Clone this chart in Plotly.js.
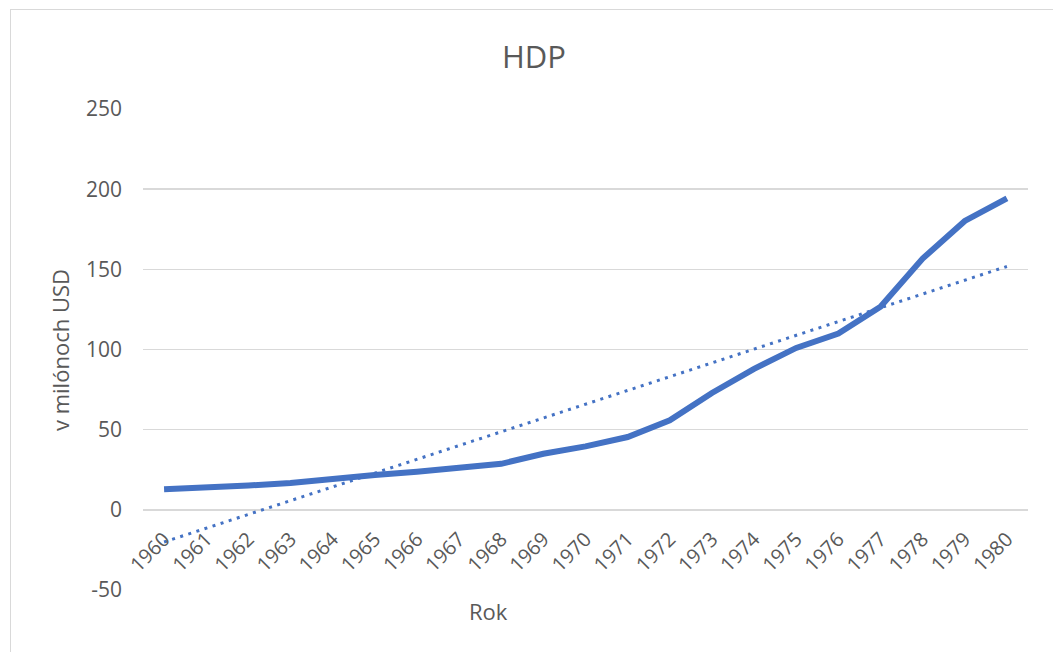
<!DOCTYPE html>
<html>
<head>
<meta charset="utf-8">
<script src="https://cdn.plot.ly/plotly-3.0.1.min.js"></script>
<style>
html,body{margin:0;padding:0;background:#fff;overflow:hidden;}
#chart{width:1053px;height:652px;position:absolute;left:0;top:0;}
#frame{position:absolute;left:10px;top:9px;width:1100px;height:700px;border:1px solid #d9d9d9;pointer-events:none;}
</style>
</head>
<body>
<div id="chart"></div>
<div id="frame"></div>
<script>
const years = ["1960","1961","1962","1963","1964","1965","1966","1967","1968","1969","1970",
               "1971","1972","1973","1974","1975","1976","1977","1978","1979","1980"];
const hdp = [12.9, 13.6, 15.2, 16.7, 19.4, 21.7, 23.7, 26.0, 28.7, 35.0, 39.6,
             45.4, 55.8, 72.9, 87.9, 101.0, 110.0, 126.7, 156.7, 180.2, 194.2];
const yTicks = [-50, 0, 50, 100, 150, 200, 250];

// linear trendline (least squares on index)
const n = hdp.length;
const idx = hdp.map((_, i) => i);
const mx = idx.reduce((a, b) => a + b, 0) / n;
const my = hdp.reduce((a, b) => a + b, 0) / n;
let sxy = 0, sxx = 0;
for (let i = 0; i < n; i++) { sxy += (i - mx) * (hdp[i] - my); sxx += (i - mx) * (i - mx); }
const slope = sxy / sxx;
const icpt = my - slope * mx;
const trend = idx.map(i => icpt + slope * i);

const font = "Open Sans, Calibri, sans-serif";
const txt = "#595959";

const data = [
  {x: years, y: hdp, type: "scatter", mode: "lines",
   line: {color: "#4472C4", width: 6}, hoverinfo: "x+y"},
  {x: years, y: trend, type: "scatter", mode: "lines",
   line: {color: "#4472C4", width: 3, dash: "3px,5.5px"}, hoverinfo: "skip"}
];

const layout = {
  width: 1053, height: 652,
  margin: {l: 143, r: 25, t: 109, b: 62},
  paper_bgcolor: "#ffffff", plot_bgcolor: "#ffffff",
  showlegend: false,
  font: {family: font, color: txt},
  title: {text: "HDP", font: {family: font, size: 31, color: txt},
          x: 534 / 1053, xref: "container", xanchor: "center",
          y: 1 - 57 / 652, yref: "container", yanchor: "middle"},
  xaxis: {
    type: "category", range: [-0.5, 20.5],
    tickangle: -45, tickfont: {family: font, size: 20, color: txt},
    showgrid: false, showline: false, zeroline: false, ticks: "",
    anchor: "free", position: 0.14
  },
  yaxis: {
    range: [-50, 250], tickvals: yTicks, ticktext: yTicks.map(String),
    tickfont: {family: font, size: 21, color: txt},
    showgrid: true, gridcolor: "#d9d9d9", gridwidth: 1.5,
    zeroline: true, zerolinecolor: "#d9d9d9", zerolinewidth: 1.5,
    showline: false, ticks: "", ticklabelstandoff: 20
  },
  annotations: [
    {text: "Rok", xref: "paper", yref: "paper", x: (488 - 143) / 885, y: (590 - 611) / 481,
     xanchor: "center", yanchor: "middle", showarrow: false,
     font: {family: font, size: 22, color: txt}},
    {text: "v milónoch USD", xref: "paper", yref: "paper", x: (60 - 143) / 885, y: (590 - 350) / 481,
     xanchor: "center", yanchor: "middle", textangle: -90, showarrow: false,
     font: {family: font, size: 22, color: txt}}
  ]
};

Plotly.newPlot("chart", data, layout, {displayModeBar: false, staticPlot: true});
</script>
</body>
</html>
